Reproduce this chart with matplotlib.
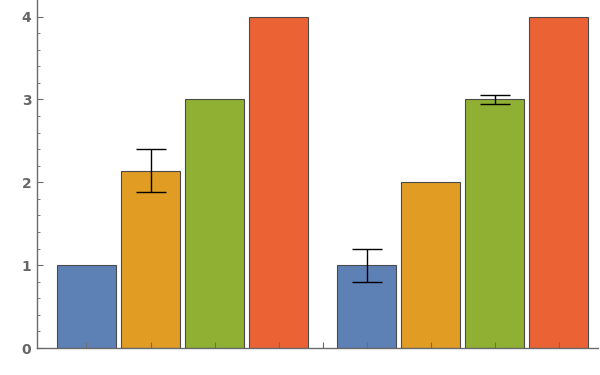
import matplotlib.pyplot as plt
import numpy as np

# data
group1 = [1.0, 2.14, 3.0, 4.0]
group2 = [1.0, 2.0, 3.0, 4.0]
err1 = [0.0, 0.26, 0.0, 0.0]
err2 = [0.2, 0.0, 0.05, 0.0]
colors = ['#5E81B5', '#E19C24', '#8FB032', '#EB6235']

gap = 4.375
x1 = np.arange(len(group1))
x2 = np.arange(len(group2)) + gap

fig = plt.figure(figsize=(6, 3.75), dpi=100)
ax = fig.add_axes([37 / 600, 27 / 375, 561 / 600, 348 / 375])

def draw_group(x, vals, errs):
    ax.bar(x, vals, width=0.92, color=colors, edgecolor='#4a4a4a', linewidth=0.8, zorder=1)
    for xi, v, e in zip(x, vals, errs):
        if e > 0:
            ax.errorbar(xi, v, yerr=e, color='black', capsize=11, elinewidth=1,
                        capthick=1, zorder=3)

draw_group(x1, group1, err1)
draw_group(x2, group2, err2)

ax.set_xlim(-0.773, 7.99)
ax.set_ylim(0, 4.2)

sep = (x1[-1] + x2[0]) / 2
ax.set_xticks(list(x1) + [sep] + list(x2))
ax.set_xticklabels([])
ax.set_yticks([0, 1, 2, 3, 4])
ax.set_yticks(np.arange(0, 4.2, 0.2), minor=True)

for s in ['top', 'right']:
    ax.spines[s].set_visible(False)
for s in ['left', 'bottom']:
    ax.spines[s].set_color('#6b6b6b')
    ax.spines[s].set_linewidth(1)

ax.tick_params(axis='both', which='major', direction='in', length=4, width=0.8, color='#6b6b6b')
ax.tick_params(axis='y', which='minor', direction='in', length=2, width=0.6, color='#6b6b6b')
ax.tick_params(axis='y', labelsize=10, labelcolor='#666666', pad=4)
for lbl in ax.get_yticklabels():
    lbl.set_fontweight('bold')

fig.savefig('out.png', dpi=100)
